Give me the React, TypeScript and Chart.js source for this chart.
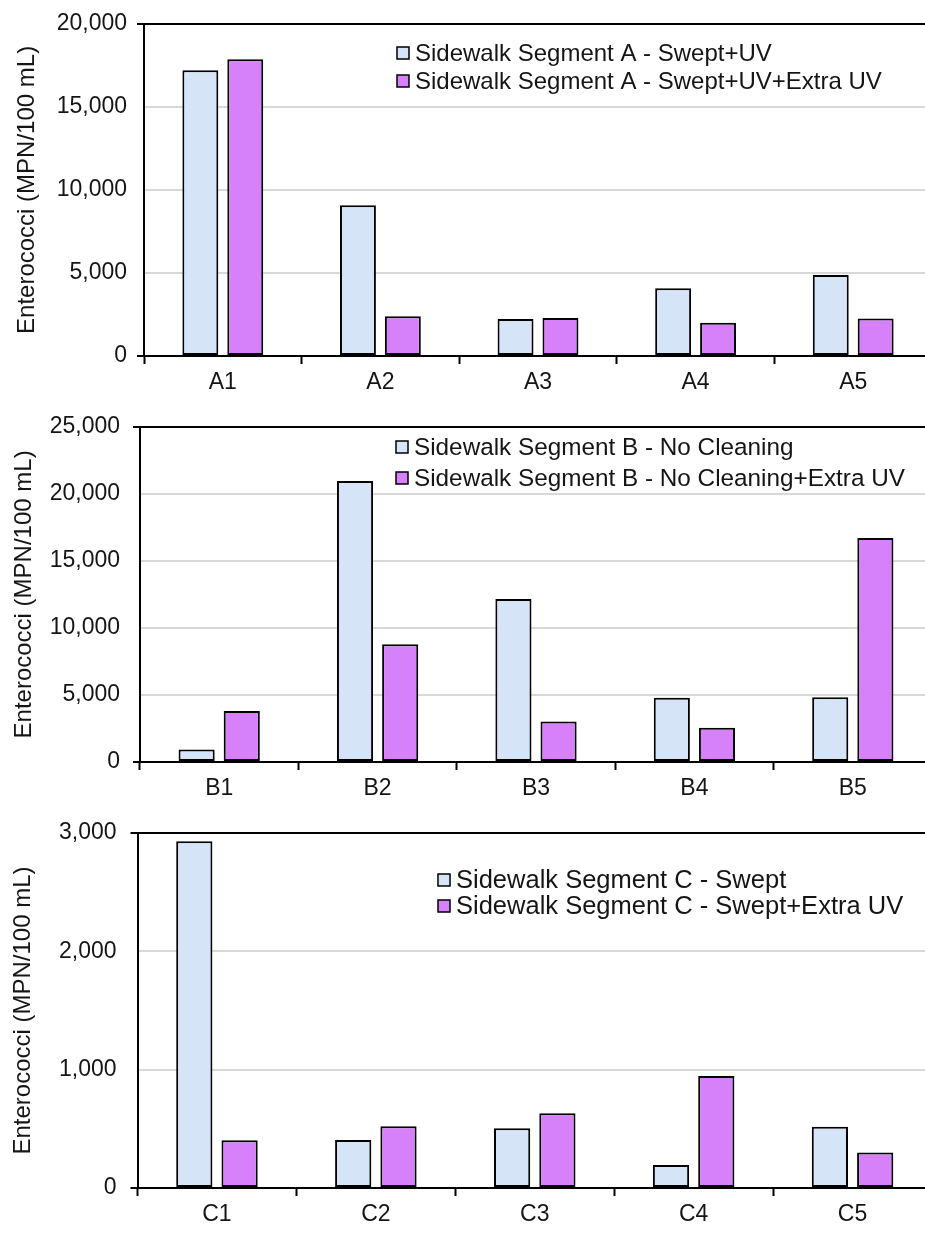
import { useEffect, useRef } from 'react';
import { Chart, registerables } from 'chart.js';

Chart.register(...registerables);

const FONT = "'Liberation Sans', Arial, Helvetica, sans-serif";
const TEXT = '#151515';
const LIGHT_BLUE = 'rgb(214, 228, 248)';
const VIOLET = 'rgb(214, 128, 250)';
const Y_TITLE = 'Enterococci (MPN/100 mL)';

// Segment A
const categoriesA = ['A1', 'A2', 'A3', 'A4', 'A5'];
const seriesA1Label = 'Sidewalk Segment A - Swept+UV';
const seriesA1 = [17200, 9080, 2230, 4080, 4880];
const seriesA2Label = 'Sidewalk Segment A - Swept+UV+Extra UV';
const seriesA2 = [17870, 2400, 2290, 2000, 2260];
const yMaxA = 20000;
const yStepA = 5000;

// Segment B
const categoriesB = ['B1', 'B2', 'B3', 'B4', 'B5'];
const seriesB1Label = 'Sidewalk Segment B - No Cleaning';
const seriesB1 = [925, 20950, 12150, 4800, 4830];
const seriesB2Label = 'Sidewalk Segment B - No Cleaning+Extra UV';
const seriesB2 = [3800, 8790, 3020, 2550, 16710];
const yMaxB = 25000;
const yStepB = 5000;

// Segment C
const categoriesC = ['C1', 'C2', 'C3', 'C4', 'C5'];
const seriesC1Label = 'Sidewalk Segment C - Swept';
const seriesC1 = [2930, 406, 504, 194, 518];
const seriesC2Label = 'Sidewalk Segment C - Swept+Extra UV';
const seriesC2 = [403, 521, 631, 946, 301];
const yMaxC = 3000;
const yStepC = 1000;

type PanelProps = {
  top: number;
  height: number;
  categories: string[];
  labels: [string, string];
  values: [number[], number[]];
  yMax: number;
  yStep: number;
  axisLeft: number;
  plotTop: number;
  xAxisHeight: number;
  tickPad: number;
  titlePad: number;
  legendX: number;
  legendY: number;
  legendGap: number;
  legendFont: number;
};

function insetLegend(x: number, y: number, gap: number, fontSize: number) {
  return {
    id: 'insetLegend',
    afterDraw(chart: any) {
      const ctx = chart.ctx as CanvasRenderingContext2D;
      ctx.save();
      ctx.font = `${fontSize}px ${FONT}`;
      ctx.textBaseline = 'middle';
      ctx.textAlign = 'left';
      chart.data.datasets.forEach((ds: any, i: number) => {
        const cy = y + i * gap;
        const size = 12;
        ctx.fillStyle = ds.backgroundColor;
        ctx.fillRect(x, cy - size / 2, size, size);
        ctx.strokeStyle = '#000';
        ctx.lineWidth = 1.5;
        ctx.strokeRect(x, cy - size / 2, size, size);
        ctx.fillStyle = TEXT;
        ctx.fillText(ds.label, x + 18, cy + 1);
      });
      ctx.restore();
    },
  };
}

function Panel(p: PanelProps) {
  const ref = useRef<HTMLCanvasElement | null>(null);

  useEffect(() => {
    if (!ref.current) return;
    const edge = (v: number) => v === 0 || v === p.yMax;
    const chart = new Chart(ref.current, {
      type: 'bar',
      data: {
        labels: p.categories,
        datasets: [
          {
            label: p.labels[0],
            data: p.values[0],
            backgroundColor: LIGHT_BLUE,
            borderColor: '#000',
            borderWidth: 2,
            borderSkipped: false,
            categoryPercentage: 0.57,
            barPercentage: 0.8,
          },
          {
            label: p.labels[1],
            data: p.values[1],
            backgroundColor: VIOLET,
            borderColor: '#000',
            borderWidth: 2,
            borderSkipped: false,
            categoryPercentage: 0.57,
            barPercentage: 0.8,
          },
        ],
      },
      options: {
        responsive: false,
        maintainAspectRatio: false,
        animation: false,
        events: [],
        layout: { padding: { top: p.plotTop, right: 4, left: 0, bottom: 0 } },
        plugins: {
          legend: { display: false },
          tooltip: { enabled: false },
        },
        scales: {
          x: {
            ticks: { color: TEXT, font: { family: FONT, size: 23 }, padding: 5 },
            grid: {
              display: true,
              offset: true,
              drawOnChartArea: false,
              drawTicks: true,
              tickLength: 8,
              tickColor: '#000',
              tickWidth: 2,
            },
            border: { color: '#000', width: 2 },
            afterFit: (s: any) => {
              s.height = p.xAxisHeight;
            },
          },
          y: {
            min: 0,
            max: p.yMax,
            ticks: {
              stepSize: p.yStep,
              color: TEXT,
              font: { family: FONT, size: 23 },
              padding: p.tickPad,
              callback: (v: any) => Number(v).toLocaleString('en-US'),
            },
            grid: {
              color: (c: any) => (c.tick && edge(c.tick.value) ? '#000' : '#d8d8d8'),
              lineWidth: 2,
              tickLength: 7,
              tickWidth: 2,
              tickColor: (c: any) => (c.tick && edge(c.tick.value) ? '#000' : 'rgba(0,0,0,0)'),
            },
            border: { color: '#000', width: 2 },
            title: {
              display: true,
              text: Y_TITLE,
              color: TEXT,
              font: { family: FONT, size: 24 },
              padding: { top: p.titlePad + 1.5, bottom: 0 },
            },
            afterFit: (s: any) => {
              s.width = p.axisLeft;
            },
          },
        },
      },
      plugins: [insetLegend(p.legendX, p.legendY, p.legendGap, p.legendFont)],
    } as any);
    return () => chart.destroy();
  }, []);

  return (
    <canvas
      ref={ref}
      width={936}
      height={p.height}
      style={{ position: 'absolute', left: 0, top: p.top }}
    />
  );
}

export default function App() {
  return (
    <div
      style={{
        position: 'absolute',
        left: 0,
        top: 0,
        width: 925,
        height: 1234,
        overflow: 'hidden',
        background: '#fff',
      }}
    >
      <Panel
        top={0}
        height={400}
        categories={categoriesA}
        labels={[seriesA1Label, seriesA2Label]}
        values={[seriesA1, seriesA2]}
        yMax={yMaxA}
        yStep={yStepA}
        axisLeft={144}
        plotTop={18}
        xAxisHeight={44}
        tickPad={10}
        titlePad={11.6}
        legendX={397}
        legendY={53}
        legendGap={28}
        legendFont={24}
      />
      <Panel
        top={400}
        height={400}
        categories={categoriesB}
        labels={[seriesB1Label, seriesB2Label]}
        values={[seriesB1, seriesB2]}
        yMax={yMaxB}
        yStep={yStepB}
        axisLeft={140}
        plotTop={26}
        xAxisHeight={38}
        tickPad={13}
        titlePad={8.6}
        legendX={396}
        legendY={47}
        legendGap={31}
        legendFont={24.3}
      />
      <Panel
        top={800}
        height={434}
        categories={categoriesC}
        labels={[seriesC1Label, seriesC2Label]}
        values={[seriesC1, seriesC2]}
        yMax={yMaxC}
        yStep={yStepC}
        axisLeft={137.5}
        plotTop={33}
        xAxisHeight={46}
        tickPad={14}
        titlePad={7.6}
        legendX={438}
        legendY={80}
        legendGap={26}
        legendFont={25.5}
      />
    </div>
  );
}
